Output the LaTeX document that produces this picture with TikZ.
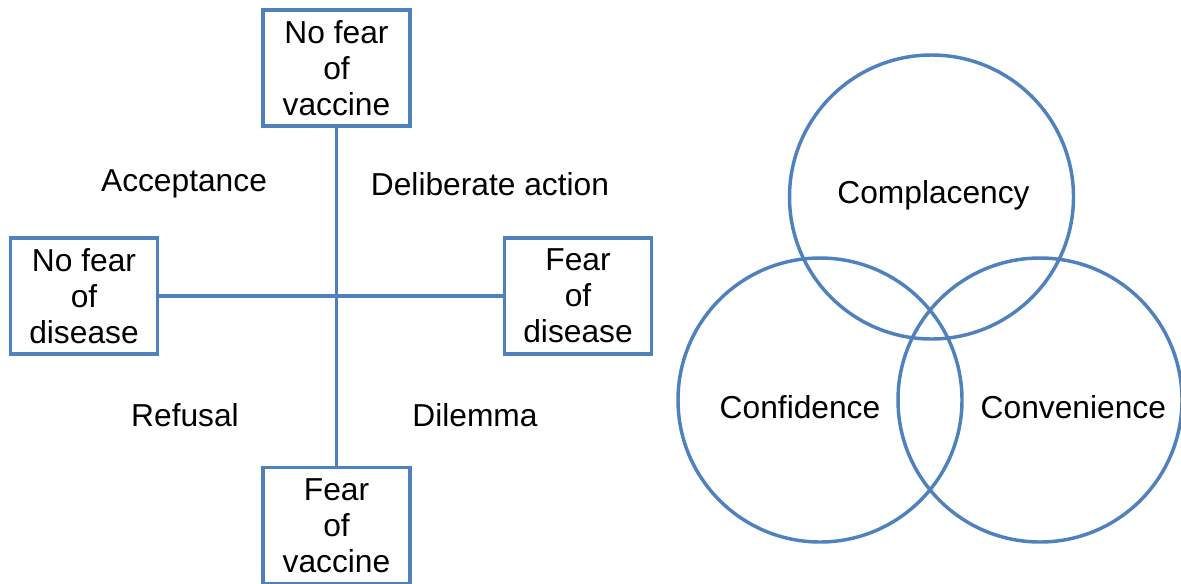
\documentclass[tikz,border=0pt]{standalone}
\usepackage{fontspec}
\setmainfont{Liberation Sans}
\usepackage{tikz}
\usetikzlibrary{positioning}

\definecolor{lineblue}{HTML}{4F81BD}

\begin{document}
\begin{tikzpicture}[x=0.75pt, y=-0.75pt, line width=2.6pt,
    every node/.style={font=\fontsize{23.8pt}{27pt}\selectfont},
    box/.style={draw=lineblue, fill=white, rectangle, align=center, minimum width=110pt, minimum height=87pt, inner sep=0pt},
    ring/.style={draw=lineblue, circle, minimum size=213pt, inner sep=0pt}]

    \useasboundingbox (0,0) rectangle (1181,583);

    % Axis boxes
    \node[box] (novaccine) at (336.5,68) {No fear\\of\\vaccine};
    \node[box] (fearvaccine) at (336.5,525.5) {Fear\\of\\vaccine};
    \node[box] (nodisease) at (84,296) {No fear\\of\\disease};
    \node[box] (feardisease) at (578,296) {Fear\\of\\disease};

    % Axes
    \draw[lineblue] (novaccine.south) -- (fearvaccine.north);
    \draw[lineblue] (nodisease.east) -- (feardisease.west);

    % Quadrant labels
    \node (acceptance) at (184,184) {Acceptance};
    \node (deliberate) at (490,184) {Deliberate action};
    \node (refusal) at (185,415) {Refusal};
    \node (dilemma) at (475,415) {Dilemma};

    % Three circles
    \node[ring] (complacency) at (931.5,197) {};
    \node[ring] (confidence) at (820,400) {};
    \node[ring] (convenience) at (1040,400) {};
    \node at ([xshift=1.5pt, yshift=1pt]complacency.center) {Complacency};
    \node at ([xshift=-15pt, yshift=-5pt]confidence.center) {Confidence};
    \node at ([xshift=25pt, yshift=-5pt]convenience.center) {Convenience};

\end{tikzpicture}
\end{document}
